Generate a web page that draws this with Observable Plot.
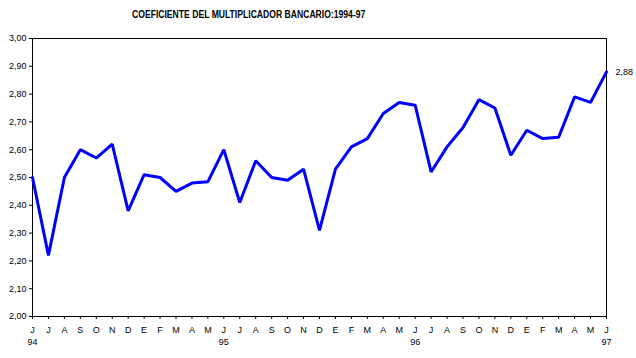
<!DOCTYPE html>
<html>
<head>
<meta charset="utf-8">
<script src="https://cdn.jsdelivr.net/npm/d3@7"></script>
<script src="https://cdn.jsdelivr.net/npm/@observablehq/plot@0.6"></script>
<style>
  html, body { margin: 0; padding: 0; background: #fff; }
  #wrap { position: relative; width: 636px; height: 358px; }
  #title { position: absolute; top: 9px; left: 0; width: 498px; text-align: center; z-index: 2;
           font: bold 10px "Liberation Sans", Arial, sans-serif; color: #000; }
  #title span { display: inline-block; transform: scaleX(0.86); transform-origin: center; }
  #chart { position: absolute; top: 0; left: 0; }
</style>
</head>
<body>
<div id="wrap">
  <div id="title"><span>COEFICIENTE DEL MULTIPLICADOR BANCARIO:1994-97</span></div>
  <div id="chart"></div>
</div>
<script>
const monthLabels = ["J","J","A","S","O","N","D","E","F","M","A","M","J","J","A","S","O","N","D","E","F","M","A","M","J","J","A","S","O","N","D","E","F","M","A","M","J"];
const yearLabels = ["94","95","96","97"];
const yearIndex = [0, 12, 24, 36];
const values = [2.50,2.22,2.50,2.60,2.57,2.62,2.38,2.51,2.50,2.45,2.48,2.485,
                2.60,2.41,2.56,2.50,2.49,2.53,2.31,2.53,2.61,2.64,2.73,2.77,
                2.76,2.52,2.61,2.68,2.78,2.75,2.58,2.67,2.64,2.645,2.79,2.77,2.88];
const yTicks = [2.0,2.1,2.2,2.3,2.4,2.5,2.6,2.7,2.8,2.9,3.0];

const data = values.map((v, i) => ({i, v}));
const fmt = v => d3.format(".2f")(v).replace(".", ",");

const chart = Plot.plot({
  width: 636,
  height: 358,
  marginLeft: 32,
  marginRight: 30,
  marginTop: 38,
  marginBottom: 42,
  style: {fontFamily: "'Liberation Sans', Arial, sans-serif", fontSize: "9px", color: "#000", background: "transparent"},
  x: {domain: [0, 36], axis: null},
  y: {domain: [2, 3], axis: null},
  marks: [
    Plot.frame({stroke: "#000", strokeWidth: 1}),
    Plot.axisY({ticks: yTicks, tickFormat: fmt, tickSize: 3, tickPadding: 3, stroke: "#000", strokeOpacity: 1, label: null}),
    Plot.axisX({ticks: d3.range(37), tickFormat: i => monthLabels[i], tickSize: 3, tickPadding: 7, stroke: "#000", strokeOpacity: 1, label: null}),
    Plot.axisX({ticks: yearIndex, tickFormat: d => yearLabels[yearIndex.indexOf(d)], tickSize: 0, tickPadding: 22, label: null}),
    Plot.line(data, {x: "i", y: "v", stroke: "#0000ff", strokeWidth: 3, strokeLinejoin: "miter"}),
    Plot.text(data.slice(-1), {x: "i", y: "v", text: d => fmt(d.v), textAnchor: "start", dx: 9, fill: "#000"})
  ]
});
document.getElementById("chart").append(chart);
</script>
</body>
</html>
